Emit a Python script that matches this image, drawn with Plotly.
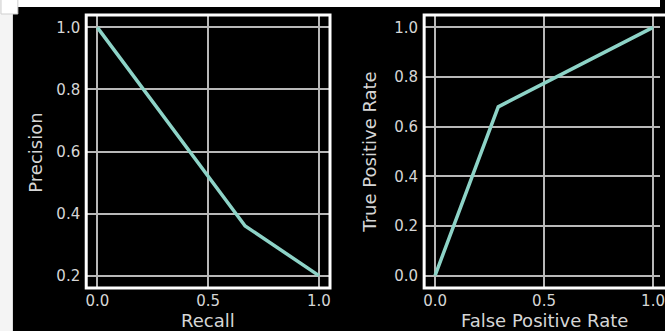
import plotly.graph_objects as go

# Data
recall = [0.0, 0.667, 1.0]
precision = [1.0, 0.36, 0.2]
fpr = [0.0, 0.29, 1.0]
tpr = [0.0, 0.68, 1.0]

x_ticks = [0.0, 0.5, 1.0]
pr_y_ticks = [0.2, 0.4, 0.6, 0.8, 1.0]
roc_y_ticks = [0.0, 0.2, 0.4, 0.6, 0.8, 1.0]

W, H = 665, 331
def px(x):
    return x / W
def py(y):
    return 1 - y / H

LINE = "#8dd3c7"
TXT = "#d6d6d6"
GRID = "#b8b8b8"
FONT = "DejaVu Sans"

fig = go.Figure()
fig.add_trace(go.Scatter(x=recall, y=precision, mode="lines",
                         line=dict(color=LINE, width=3.5), xaxis="x", yaxis="y",
                         showlegend=False, hoverinfo="skip"))
fig.add_trace(go.Scatter(x=fpr, y=tpr, mode="lines",
                         line=dict(color=LINE, width=3.5), xaxis="x2", yaxis="y2",
                         showlegend=False, hoverinfo="skip"))

ax_common = dict(showgrid=True, gridcolor=GRID, gridwidth=1.5, zeroline=False,
                 showline=False, ticks="", tickformat=".1f",
                 tickfont=dict(family=FONT, size=15, color=TXT),
                 ticklabeloverflow="allow")

ydom = [py(288), py(15)]
fig.update_layout(
    width=W, height=H,
    margin=dict(l=0, r=0, t=0, b=0),
    paper_bgcolor="black", plot_bgcolor="black",
    xaxis=dict(domain=[px(86), px(332)], range=[-0.05, 1.05], tickvals=x_ticks,
               anchor="y", ticklabelstandoff=2, **ax_common),
    yaxis=dict(domain=ydom, range=[0.16, 1.04], tickvals=pr_y_ticks,
               anchor="x", ticklabelstandoff=5, **ax_common),
    xaxis2=dict(domain=[px(427), 1.0], range=[-0.05, 1.032], tickvals=x_ticks,
                anchor="y2", ticklabelstandoff=2, **ax_common),
    yaxis2=dict(domain=ydom, range=[-0.05, 1.05], tickvals=roc_y_ticks,
                anchor="x2", ticklabelstandoff=5, **ax_common),
)

shapes = [
    dict(type="rect", xref="x domain", yref="y domain", x0=0, x1=1, y0=0, y1=1,
         line=dict(color="white", width=3), fillcolor="rgba(0,0,0,0)", layer="above"),
    dict(type="rect", xref="x2 domain", yref="y2 domain", x0=0, x1=1.2, y0=0, y1=1,
         line=dict(color="white", width=3), fillcolor="rgba(0,0,0,0)", layer="above"),
    dict(type="rect", xref="paper", yref="paper", x0=0, x1=1, y0=py(7), y1=1.01,
         line=dict(width=0), fillcolor="white", layer="above"),
    dict(type="rect", xref="paper", yref="paper", x0=-0.01, x1=px(12), y0=-0.01, y1=1.01,
         line=dict(width=0), fillcolor="#f4f4f4", layer="above"),
    dict(type="rect", xref="paper", yref="paper", x0=0, x1=px(17), y0=py(14), y1=1.01,
         line=dict(color="#cfcfcf", width=1), fillcolor="white", layer="above"),
]
fig.update_layout(shapes=shapes)

tfont = dict(family=FONT, size=18, color=TXT)
fig.add_annotation(text="Recall", xref="paper", yref="paper",
                   x=px(209), y=py(320), showarrow=False, font=tfont,
                   xanchor="center", yanchor="middle")
fig.add_annotation(text="False Positive Rate", xref="paper", yref="paper",
                   x=px(548), y=py(320), showarrow=False, font=tfont,
                   xanchor="center", yanchor="middle")
fig.add_annotation(text="Precision", xref="paper", yref="paper",
                   x=px(34), y=py(153), showarrow=False, font=tfont, textangle=-90,
                   xanchor="center", yanchor="middle")
fig.add_annotation(text="True Positive Rate", xref="paper", yref="paper",
                   x=px(372), y=py(152), showarrow=False, font=tfont, textangle=-90,
                   xanchor="center", yanchor="middle")

fig.write_html("out.html", config={"displayModeBar": False},
               post_script="document.body.style.margin='0';document.body.style.overflow='hidden';")
